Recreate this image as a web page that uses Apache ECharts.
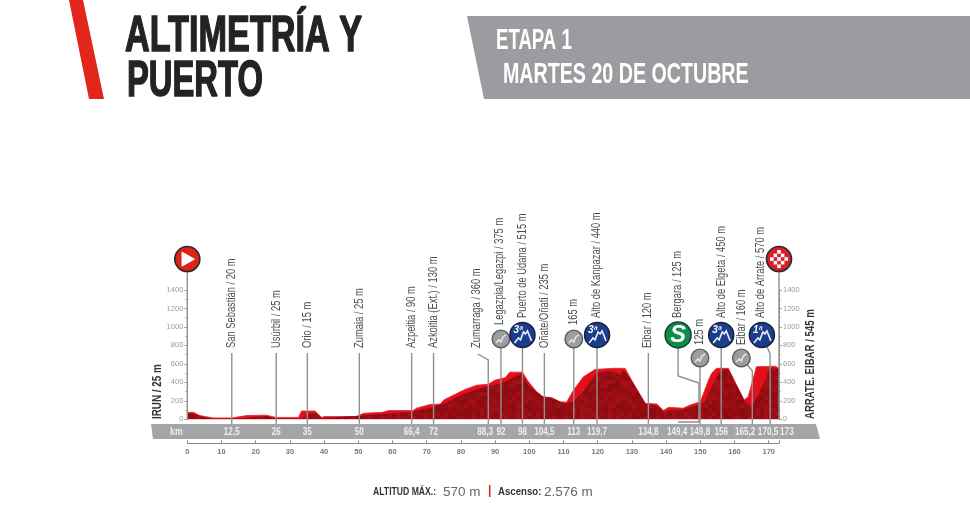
<!DOCTYPE html>
<html><head><meta charset="utf-8">
<style>html,body{margin:0;padding:0;background:#fff}#c{width:970px;height:506px}</style>
<script src="https://cdn.jsdelivr.net/npm/echarts@6/dist/echarts.min.js"></script>
</head><body><div id="c"></div>
<script>
// ---- data ----
const profileKm = [0,1.8,3.7,7.6,13,17.3,23,26,32.5,33.4,37.3,39.3,40,49.5,51.5,57,59,66,67,71,74,75,81,84.6,88,90,92.9,94.3,98,99.7,102.1,104,106.5,109,110.9,112.8,115.8,119.2,124.5,128,130.4,133.9,137.3,139.2,140.7,145,147,150,152.4,153.3,154.7,158.2,160.6,162.8,164,166.4,172,173];
const profileM  = [75,75,40,15,15,40,45,20,20,90,90,20,30,30,65,75,95,95,120,160,165,210,320,370,380,425,450,510,510,408,300,245,235,190,185,310,460,540,552,552,390,173,165,95,130,120,155,190,425,498,552,552,370,210,245,570,575,550];
const shadeKm = [0,1.5,4,7,13,17,23,26,33.5,35,37.5,39.5,40,53.4,66,72,75,80.2,84.6,88,92,94.8,97.7,99.7,102,104,106.5,109,110.9,112.9,115.8,117.7,119.7,123.5,125,126.5,127.5,129.4,130.4,134,137.2,139.6,141,145,149.4,151.3,153.3,155.2,156.2,158.2,160.6,162.8,165,167.4,170.3,173];
const shadeM  = [60,60,30,10,8,15,35,10,10,60,65,15,12,47,83,137,173,263,325,360,390,444,490,370,300,245,230,190,173,190,300,408,500,527,515,480,535,444,390,165,150,75,100,110,155,190,350,480,535,545,370,210,137,300,550,550];
const xTicks = [0,10,20,30,40,50,60,70,80,90,100,110,120,130,140,150,160,170];
const passNames = ["San Sebastián / 20 m","Usúrbil / 25 m","Orio / 15 m","Zumaia / 25 m","Azpeitia / 90 m","Azkoitia (Ext.) / 130 m","Zumarraga / 360 m","Legazpia/Legazpi / 375 m","Puerto de Udana / 515 m","Oñate/Oñati / 235 m","165 m","Alto de Kanpazar / 440 m","Eibar / 120 m","Bergara / 125 m","125 m","Alto de Elgeta / 450 m","Eibar / 160 m","Alto de Arrate / 570 m"];
const passLabelKm = [13,26,35.1,50.3,65.6,72,84.6,91.4,98.2,104.6,113,119.8,134.7,143.5,149.9,156.1,162,167.7];
const bandLabels = ["12,5","26","35","50","66,4","72","88,3","92","98","104,5","113","119,7","134,8","149,4","149,8","156","165,2","170,5","173"];
const bandKm     = [13,26,35.1,50.3,65.6,72,87.1,91.7,98,104.4,113,119.8,134.8,143.2,149.9,156.1,163.1,169.8,175.3];

// ---- placement on the chart, in km / metres on the chart's axes ----
const passLabelM = [772,772,772,772,772,772,772,1021,1097,772,1021,1097,772,1097,804,1097,804,1097];
const stems = [
 [[13,-50],[13,718]],[[26,-50],[26,718]],[[35.1,-50],[35.1,718]],[[50.3,-50],[50.3,718]],[[65.6,-50],[65.6,718]],[[72,-50],[72,718]],
 [[88,-50],[88,642],[84.9,707]],[[91.7,-50],[91.7,870]],[[98,-50],[98,914]],[[104.4,-50],[104.4,718]],[[113,-50],[113,870]],[[119.8,-50],[119.8,914]],[[134.8,-50],[134.8,718]],
 [[143.5,914],[143.5,470],[149.6,393],[149.6,-30],[143.5,-30]],[[149.9,-50],[149.9,664]],[[156.1,-50],[156.1,914]],[[162,664],[165.2,526],[165.2,-50]],[[168,914],[170.4,707],[170.4,-50]],
 [[0,0],[0,1735]],[[173,0],[173,1735]]
];
const badges = [
 {km:0,m:1735,t:'start'},{km:173,m:1735,t:'finish'},
 {km:91.7,m:870,t:'grey'},{km:98,m:914,t:'cat',s:'3ª'},{km:113,m:870,t:'grey'},{km:119.8,m:914,t:'cat',s:'3ª'},
 {km:143.5,m:914,t:'sprint'},{km:149.9,m:664,t:'grey'},{km:156.1,m:914,t:'cat',s:'3ª'},{km:162,m:664,t:'grey'},{km:168,m:914,t:'cat',s:'1ª'}
];

const SANS = '"Liberation Sans",sans-serif';
const zip = (a,b)=>a.map((v,i)=>[v,b[i]]);
const G = {stroke:'#8f9092',lineWidth:1.4,fill:null};
// condensed look: real text, squeezed along its own baseline
function txt(x,y,text,font,fill,sx,extra,styleExtra){
  return Object.assign({type:'text',x,y,scaleX:sx,scaleY:1,originX:0,originY:0,
    style:Object.assign({text,x:0,y:0,verticalAlign:'middle',align:'left',fill,font},styleExtra||{})},extra||{});
}
// mottled texture of the shaded part of the terrain (fixed hash, purely decorative)
function speckle(){
  const c=document.createElement('canvas');c.width=c.height=92;const g=c.getContext('2d');
  const cols=['#930d12','#990e13','#a00f15','#8a0c10','#930d12','#8e0c11','#a51016'];
  for(let y=0;y<23;y++)for(let x=0;x<23;x++){
    g.fillStyle=cols[((x*x*3+y*y*5+x*y*11+x+2*y)%97)%7];g.fillRect(x*4,y*4,4,4);
  }
  return c;
}

function badge(b,api){
  const [x,y]=api.coord([b.km,b.m]); const ch=[];
  const circle=(r,fill,stroke,lw)=>({type:'circle',shape:{cx:x,cy:y,r},style:{fill,stroke,lineWidth:lw}});
  const pts=a=>a.map(p=>[x+p[0],y+p[1]]);
  if(b.t==='start'){
    ch.push(circle(12.5,'#dd2419','#2a2a2a',1.6));
    ch.push({type:'polygon',shape:{points:pts([[-5,-6.5],[6.5,0],[-5,6.5]])},style:{fill:'#fff',stroke:'#fff',lineWidth:1.5,lineJoin:'round'}});
  } else if(b.t==='finish'){
    ch.push(circle(12.5,'#d8202a','#2a2a2a',1.6));
    const c=3.6;
    for(let i=-3;i<=3;i++)for(let j=-3;j<=3;j++){
      if((i+j)%2===0 && Math.hypot(i*c,j*c)<9)
        ch.push({type:'rect',shape:{x:x+i*c-c/2,y:y+j*c-c/2,width:c,height:c},style:{fill:'#fff'}});
    }
  } else if(b.t==='cat'){
    ch.push(circle(12.5,'#1c3d8c','#14233f',1.5));
    ch.push({type:'text',style:{text:b.s,x:x-9,y:y-10,fill:'#fff',font:'italic bold 10px '+SANS}});
    ch.push({type:'polyline',shape:{points:pts([[-8,8],[-4,3],[-2,5],[1,-3],[3,-1],[5,-4],[9,6]])},style:{stroke:'#e8eefc',lineWidth:1.6,fill:null}});
  } else if(b.t==='sprint'){
    ch.push(circle(13,'#0d8c4b','#123f2a',1.5));
    ch.push({type:'text',style:{text:'S',x,y,fill:'#fff',align:'center',verticalAlign:'middle',font:'italic bold 24px '+SANS}});
  } else {
    ch.push(circle(8.8,'#9c9d9f','#5a5b5d',1.4));
    ch.push({type:'polyline',shape:{points:pts([[-5,4],[-2,1],[0,3],[2,-2],[5,-4]])},style:{stroke:'#e6e6e6',lineWidth:1.6,fill:null}});
  }
  return {type:'group',children:ch};
}

const titleStroke={stroke:'#232323',lineWidth:1.5};
const option = {
  animation:false,
  backgroundColor:'#fff',
  grid:{left:187.3,right:191,top:290,bottom:86.7,containLabel:false},
  xAxis:{type:'value',min:0,max:173,interval:10,offset:24,position:'bottom',
    splitLine:{show:false},
    axisLine:{onZero:false,lineStyle:{color:'#8a8a8a',width:1}},
    axisTick:{inside:true,length:3,lineStyle:{color:'#8a8a8a'}},
    axisLabel:{margin:5,color:'#77787a',fontFamily:SANS,fontWeight:'bold',fontSize:7.5,hideOverlap:false,formatter:v=>xTicks.includes(v)?String(v):''}},
  yAxis:[0,1].map(i=>({type:'value',min:0,max:1400,interval:200,position:i?'right':'left',
    splitLine:{show:false},
    axisLine:{show:true,lineStyle:{color:'#8f9092',width:1}},
    axisTick:{show:true,length:3,lineStyle:{color:'#a0a0a0'}},
    minorTick:{show:true,splitNumber:2,length:2,lineStyle:{color:'#b0b0b0'}},
    axisLabel:{margin:4,color:'#9a9a9a',fontFamily:SANS,fontSize:7.5,formatter:v=>String(v)}})),
  series:[
    {type:'line',data:zip(profileKm,profileM),showSymbol:false,lineStyle:{width:0.8,color:'#e8242c'},areaStyle:{color:'#e3101c',opacity:1},z:2},
    {type:'line',data:zip(shadeKm,shadeM),showSymbol:false,lineStyle:{width:0},areaStyle:{color:{image:speckle(),repeat:'repeat'},opacity:1},z:3},
    {type:'custom',coordinateSystem:'cartesian2d',z:5,data:stems.map(s=>s[0]),
      renderItem:(p,api)=>({type:'polyline',shape:{points:stems[p.dataIndex].map(c=>api.coord(c))},style:G})},
    {type:'custom',coordinateSystem:'cartesian2d',z:6,data:zip(passLabelKm,passLabelM),
      renderItem:(p,api)=>{const [x,y]=api.coord([passLabelKm[p.dataIndex],passLabelM[p.dataIndex]]);
        return txt(x,y,passNames[p.dataIndex],'12px '+SANS,'#4d4e50',0.78,{rotation:Math.PI/2});}},
    {type:'custom',coordinateSystem:'cartesian2d',z:7,data:bandKm.map(k=>[k,-132]),
      renderItem:(p,api)=>{const [x,y]=api.coord([bandKm[p.dataIndex],-132]);
        const t=txt(x,y,bandLabels[p.dataIndex],'bold 11px '+SANS,'#eeeeee',0.74);t.style.align='center';return t;}},
    {type:'custom',coordinateSystem:'cartesian2d',z:8,data:badges.map(b=>[b.km,b.m]),
      renderItem:(p,api)=>badge(badges[p.dataIndex],api)}
  ],
  graphic:[
    {type:'polygon',z:-1,zlevel:0,shape:{points:[[151,424],[816,424],[820,439],[153,439]]},style:{fill:'#a3a5a7'}},
    txt(170,431.5,'km','bold 11px '+SANS,'#eeeeee',0.8),
    {type:'polygon',shape:{points:[[69,0],[83,0],[104,99],[89,99]]},style:{fill:'#e2261c'}},
    txt(125,37,'ALTIMETRÍA Y','bold 50px '+SANS,'#232323',0.685,null,titleStroke),
    txt(127,82,'PUERTO','bold 50px '+SANS,'#232323',0.655,null,titleStroke),
    {type:'polygon',shape:{points:[[467,16],[970,16],[970,99],[484,99]]},style:{fill:'#9a9c9f'}},
    txt(496,41,'ETAPA 1','bold 30px '+SANS,'#fff',0.62),
    txt(503,74.5,'MARTES 20 DE OCTUBRE','bold 30px '+SANS,'#fff',0.655),
    txt(158,419,'IRUN / 25 m','bold 12px '+SANS,'#333',0.82,{rotation:Math.PI/2}),
    txt(811,419,'ARRATE. EIBAR / 545 m','bold 12px '+SANS,'#333',0.8,{rotation:Math.PI/2}),
    txt(373,492,'ALTITUD MÁX.:','bold 11.5px '+SANS,'#333',0.75),
    txt(443,492,'570 m','13.5px '+SANS,'#666',1),
    txt(488,491,'|','bold 12px '+SANS,'#d8262c',1),
    txt(498,492,'Ascenso:','bold 11.5px '+SANS,'#333',0.84),
    txt(544,492,'2.576 m','13.5px '+SANS,'#666',1)
  ]
};
const chart = echarts.init(document.getElementById('c'),null,{renderer:'canvas'});
chart.setOption(option);
</script></body></html>
